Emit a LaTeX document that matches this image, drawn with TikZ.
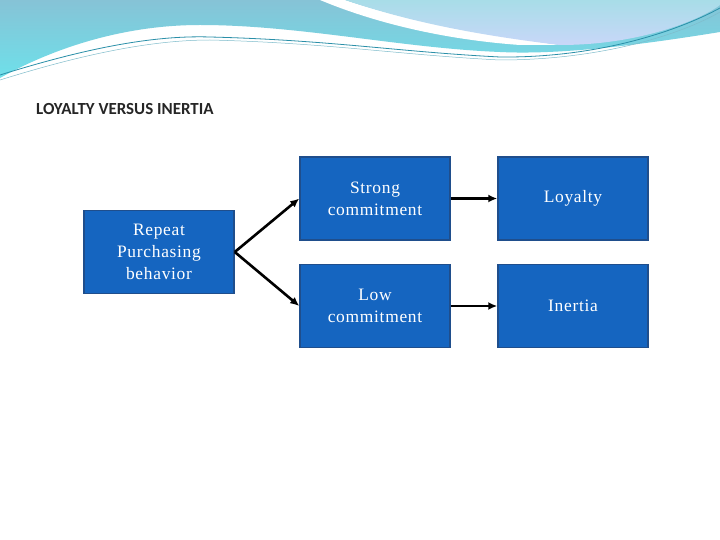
\documentclass[tikz,border=0pt]{standalone}
\usepackage{fontspec}
\usetikzlibrary{arrows.meta}
\setmainfont{Liberation Serif}[LetterSpace=4]
\newfontfamily\titlefont{Carlito}
\begin{document}
\begin{tikzpicture}[x=1bp,y=-1bp,
  box/.style={draw=boxedge,fill=boxfill,line width=1.5bp,minimum width=150bp,minimum height=83bp,inner sep=0pt,text=white,align=center,font=\fontsize{17.5}{22}\selectfont},
  arr/.style={-{Latex[length=9bp,width=8bp]},line width=2.6bp,black}]
\definecolor{boxfill}{HTML}{1565C0}
\definecolor{boxedge}{HTML}{1F4E8C}
\definecolor{waveA}{HTML}{86C3D6}
\definecolor{waveB}{HTML}{6EE0EA}
\definecolor{waveC}{HTML}{A8DDE8}
\definecolor{waveD}{HTML}{2A8FA8}
\useasboundingbox (0,0) rectangle (720,540);
\fill[white] (0,0) rectangle (720,540);
% header waves
\shade[top color=waveA,bottom color=waveB] (0,0) -- (720,0) -- (720,32)
  .. controls (640,45) and (560,55) .. (500,52)
  .. controls (400,48) and (300,25) .. (200,25)
  .. controls (120,25) and (50,50) .. (0,78) -- cycle;
\fill[white] (320,0) .. controls (380,25) and (450,40) .. (520,45) -- (560,45) .. controls (450,30) and (390,15) .. (345,0) -- cycle;
\shade[top color=waveC,bottom color=waveC!70!blue!40!white] (345,0) .. controls (390,15) and (450,32) .. (560,45) .. controls (640,45) and (700,20) .. (720,5) -- (720,0) -- cycle;
\draw[waveD,line width=0.8bp] (0,75) .. controls (80,50) and (150,35) .. (210,37) .. controls (330,40) and (400,52) .. (500,57) .. controls (600,58) and (680,30) .. (720,8);
\draw[waveD!60,line width=0.5bp] (0,80) .. controls (80,55) and (150,40) .. (210,40) .. controls (330,43) and (400,55) .. (500,60) .. controls (600,60) and (680,35) .. (720,12);
\node[anchor=west,inner sep=0pt,font=\titlefont\bfseries\fontsize{17}{19}\selectfont,text=black!85] (title) at (36,109) {LOYALTY VERSUS INERTIA};
\node[box] (rep) at (159,252) {Repeat\\Purchasing\\behavior};
\node[box] (strong) at (375,198.5) {Strong\\commitment};
\node[box] (low) at (375,306) {Low\\commitment};
\node[box] (loy) at (573,198.5) {Loyalty};
\node[box] (ine) at (573,306) {Inertia};
\draw[arr] (rep.east) -- (strong.west);
\draw[arr] (rep.east) -- (low.west);
\draw[arr] (strong) -- (loy);
\draw[arr] (low) -- (ine);
\end{tikzpicture}
\end{document}
